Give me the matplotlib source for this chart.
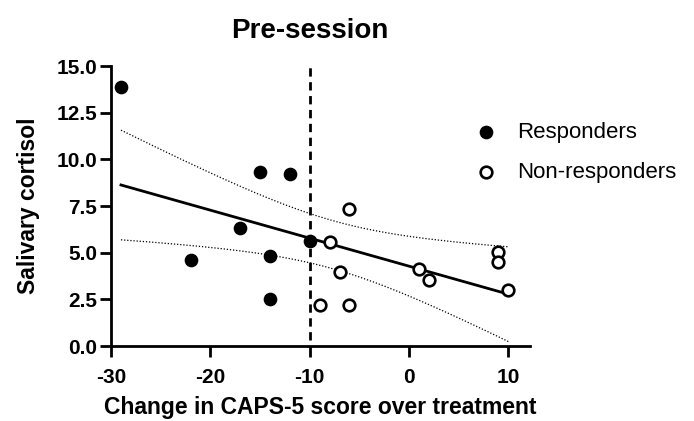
import numpy as np
import matplotlib
matplotlib.use("Agg")
import matplotlib.pyplot as plt

# ---- data ----
resp_x = [-29, -22, -17, -15, -14, -14, -12, -10]
resp_y = [13.9, 4.6, 6.3, 9.3, 4.8, 2.5, 9.2, 5.65]
nonresp_x = [-8, -7, -6, -9, -6, 1, 2, 9, 9, 10]
nonresp_y = [5.55, 3.95, 7.35, 2.2, 2.2, 4.15, 3.55, 5.05, 4.5, 3.0]
threshold_x = -10
xticks = [-30, -20, -10, 0, 10]
yticks = [0.0, 2.5, 5.0, 7.5, 10.0, 12.5, 15.0]
title = "Pre-session"
xlabel = "Change in CAPS-5 score over treatment"
ylabel = "Salivary cortisol"
t_crit = 2.120  # t(0.975, df=16)

plt.rcParams['font.family'] = ['Liberation Sans', 'DejaVu Sans']

fig = plt.figure(figsize=(6.94, 4.21), dpi=100)
ax = fig.add_axes([0.16, 0.178, 0.604, 0.665])

# regression with 95% confidence band
x_all = np.array(resp_x + nonresp_x, float)
y_all = np.array(resp_y + nonresp_y, float)
n = len(x_all)
b, a = np.polyfit(x_all, y_all, 1)
resid = y_all - (a + b * x_all)
s = np.sqrt(np.sum(resid ** 2) / (n - 2))
xm = x_all.mean()
sxx = np.sum((x_all - xm) ** 2)
xs = np.linspace(x_all.min(), x_all.max(), 200)
yfit = a + b * xs
se = s * np.sqrt(1.0 / n + (xs - xm) ** 2 / sxx)
ax.plot(xs, yfit, color='black', lw=2.0, zorder=3)
ax.plot(xs, yfit + t_crit * se, color='black', lw=0.9, ls=(0, (1, 1.5)), zorder=2)
ax.plot(xs, yfit - t_crit * se, color='black', lw=0.9, ls=(0, (1, 1.5)), zorder=2)

ax.axvline(threshold_x, ymin=0.02, ymax=1.0, color='black', lw=2.0, ls=(0, (3, 2)), zorder=2)

ax.scatter(resp_x, resp_y, s=78, color='black', zorder=4, label='Responders')
ax.scatter(nonresp_x, nonresp_y, s=70, facecolor='white', edgecolor='black',
           linewidth=1.9, zorder=4, label='Non-responders')

ax.set_xlim(-30, 12.2)
ax.set_ylim(0, 15)
ax.set_xticks(xticks)
ax.set_xticklabels([str(v) for v in xticks])
ax.set_yticks(yticks)
ax.set_yticklabels([f"{v:.1f}" for v in yticks])
for sp in ['top', 'right']:
    ax.spines[sp].set_visible(False)
for sp in ['left', 'bottom']:
    ax.spines[sp].set_linewidth(2.0)
ax.tick_params(axis='both', width=2.0, length=8, labelsize=15)
ax.tick_params(axis='x', pad=8)
ax.tick_params(axis='y', pad=2)
for lbl in ax.get_xticklabels() + ax.get_yticklabels():
    lbl.set_fontweight('bold')

ax.set_title(title, fontsize=20, fontweight='bold', pad=20, x=0.475)
ax.set_xlabel(xlabel, fontsize=16.5, fontweight='bold', labelpad=6)
ax.set_ylabel(ylabel, fontsize=16.5, fontweight='bold', labelpad=12)

leg = ax.legend(loc='upper left', bbox_to_anchor=(0.868, 0.80), frameon=False,
                fontsize=16, handletextpad=0.9, labelspacing=0.85,
                borderaxespad=0, handlelength=1.0, borderpad=0)

fig.savefig('out.png', dpi=100)
